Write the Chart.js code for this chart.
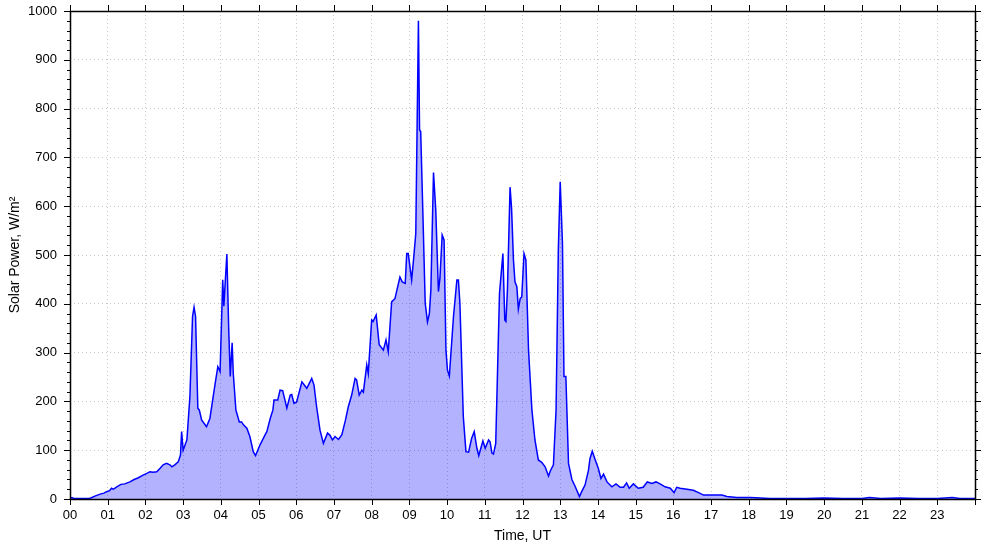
<!DOCTYPE html>
<html>
<head>
<meta charset="utf-8">
<script src="https://cdn.jsdelivr.net/npm/chart.js@4"></script>
<style>
  html, body { margin: 0; padding: 0; background: #fff; }
  #wrap { width: 985px; height: 547px; }
</style>
</head>
<body>
<div id="wrap"><canvas id="grafico"></canvas></div>
<script>
// time of day in hours (UT)
const hours = [
  0.00, 0.05, 0.10, 0.30, 0.50, 0.55, 0.66, 0.80, 0.90, 0.97, 1.05, 1.10, 1.15, 1.24, 1.35, 1.45, 1.59, 1.70, 1.80, 1.94,
  2.05, 2.12, 2.20, 2.30, 2.39, 2.47, 2.56, 2.65, 2.70, 2.78, 2.87, 2.93, 2.96, 3.00, 3.10, 3.18, 3.25, 3.29, 3.33, 3.39,
  3.43, 3.49, 3.62, 3.71, 3.85, 3.92, 3.98, 4.05, 4.08, 4.16, 4.21, 4.25, 4.30, 4.33, 4.40, 4.49, 4.55, 4.60, 4.69, 4.77,
  4.86, 4.92, 5.04, 5.17, 5.22, 5.31, 5.38, 5.41, 5.51, 5.57, 5.64, 5.75, 5.84, 5.88, 5.94, 6.01, 6.15, 6.28, 6.41, 6.47,
  6.54, 6.63, 6.72, 6.83, 6.89, 6.96, 7.03, 7.12, 7.21, 7.30, 7.38, 7.47, 7.56, 7.60, 7.67, 7.74, 7.78, 7.87, 7.91, 8.00,
  8.04, 8.12, 8.20, 8.31, 8.38, 8.44, 8.53, 8.62, 8.66, 8.75, 8.81, 8.89, 8.93, 8.97, 9.06, 9.11, 9.17, 9.24, 9.27, 9.30,
  9.36, 9.42, 9.48, 9.53, 9.57, 9.64, 9.70, 9.77, 9.81, 9.87, 9.92, 9.97, 10.01, 10.06, 10.17, 10.26, 10.30, 10.34, 10.43, 10.50,
  10.57, 10.65, 10.72, 10.79, 10.84, 10.95, 11.01, 11.10, 11.14, 11.19, 11.23, 11.29, 11.33, 11.39, 11.48, 11.53, 11.56, 11.60, 11.67, 11.71,
  11.76, 11.80, 11.85, 11.89, 11.94, 11.98, 12.04, 12.09, 12.16, 12.25, 12.33, 12.42, 12.51, 12.60, 12.69, 12.74, 12.82, 12.89, 12.95, 13.00,
  13.06, 13.10, 13.15, 13.22, 13.31, 13.40, 13.51, 13.57, 13.66, 13.75, 13.79, 13.85, 13.93, 14.01, 14.08, 14.15, 14.24, 14.37, 14.48, 14.59,
  14.68, 14.76, 14.83, 14.94, 15.07, 15.20, 15.31, 15.43, 15.54, 15.65, 15.78, 15.92, 16.02, 16.09, 16.18, 16.36, 16.53, 16.67, 16.80, 17.06,
  17.29, 17.42, 17.68, 18.04, 18.30, 18.57, 19.00, 19.50, 20.00, 20.50, 21.00, 21.20, 21.50, 22.00, 22.50, 23.00, 23.40, 23.60, 24.00
];
// solar power, W/m2
const power = [
  1, 3, 1, 1, 1, 2, 6, 10, 12, 15, 17, 22, 20, 25, 30, 31, 35, 40, 43, 49,
  53, 56, 55, 56, 63, 70, 73, 70, 66, 70, 76, 90, 138, 100, 121, 210, 374, 393, 374, 186,
  182, 162, 148, 165, 237, 271, 261, 449, 395, 502, 346, 251, 320, 257, 182, 158, 158, 152, 145, 128,
  97, 89, 111, 131, 138, 165, 182, 203, 203, 223, 222, 186, 213, 214, 196, 199, 240, 227, 247, 234,
  189, 141, 114, 135, 131, 121, 128, 122, 132, 160, 189, 213, 247, 244, 213, 223, 219, 275, 257, 367,
  364, 377, 316, 305, 326, 302, 404, 411, 425, 455, 445, 442, 503, 503, 449, 490, 544, 980, 756, 753,
  580, 401, 363, 380, 428, 669, 592, 425, 452, 541, 531, 305, 264, 252, 374, 449, 449, 401, 169, 97,
  96, 124, 138, 104, 89, 119, 104, 121, 117, 94, 92, 114, 237, 421, 503, 367, 364, 428, 639, 596,
  490, 445, 435, 389, 411, 414, 503, 490, 305, 182, 121, 80, 75, 66, 47, 58, 70, 182, 510, 650,
  524, 251, 251, 73, 40, 25, 5, 15, 29, 59, 83, 98, 80, 63, 42, 51, 35, 25, 31, 24,
  24, 33, 22, 31, 22, 24, 35, 32, 35, 31, 25, 22, 13, 24, 22, 20, 18, 13, 8, 8,
  8, 5, 3, 3, 2, 1, 1, 1, 2, 1, 1, 3, 1, 2, 1, 1, 3, 1, 1
];

const xMin = 0, xMax = 24;
const yMin = 0, yMax = 1000;

const FONTE = "'Liberation Sans', Arial, sans-serif";

// ===== MARCAS DOS EIXOS (maiores e menores) =====
const marcasEixos = {
  id: 'marcasEixos',
  afterDraw(chart) {
    const { ctx, chartArea: a, scales: { x, y } } = chart;
    ctx.save();
    ctx.strokeStyle = '#000';
    ctx.lineWidth = 1;
    ctx.beginPath();
    // horas: em baixo e em cima
    for (let h = xMin; h <= xMax; h++) {
      const px = Math.round(x.getPixelForValue(h)) + 0.5;
      ctx.moveTo(px, a.bottom); ctx.lineTo(px, a.bottom + 6);
      ctx.moveTo(px, a.top); ctx.lineTo(px, a.top - 6);
    }
    // potência: esquerda e direita, menores a cada 20
    for (let v = yMin; v <= yMax; v += 20) {
      const py = Math.round(y.getPixelForValue(v)) + 0.5;
      const len = v % 100 === 0 ? 6 : 3;
      ctx.moveTo(a.left, py); ctx.lineTo(a.left - len, py);
      ctx.moveTo(a.right, py); ctx.lineTo(a.right + len, py);
    }
    ctx.stroke();
    ctx.lineWidth = 1.5;
    ctx.strokeRect(Math.round(a.left) + 0.5, Math.round(a.top) + 0.5,
      Math.round(a.right - a.left), Math.round(a.bottom - a.top));
    ctx.restore();
  }
};

const pontos = hours.map((h, i) => ({ x: h, y: power[i] }));

new Chart(document.getElementById('grafico'), {
  type: 'line',
  data: {
    datasets: [{
      data: pontos,
      borderColor: '#0000ff',
      borderWidth: 1.5,
      backgroundColor: 'rgba(0,0,255,0.3)',
      fill: 'origin',
      pointRadius: 0,
      tension: 0
    }]
  },
  options: {
    responsive: true,
    maintainAspectRatio: false,
    animation: false,
    layout: { padding: { left: 7, right: 10, top: 11, bottom: 0 } },
    plugins: {
      legend: { display: false },
      tooltip: { enabled: false }
    },
    scales: {
      x: {
        type: 'linear',
        min: xMin,
        max: xMax,
        afterFit: s => { s.height = 48; s.paddingLeft = 0; s.paddingRight = 0; },
        ticks: {
          stepSize: 1,
          autoSkip: false,
          maxRotation: 0,
          padding: 9,
          color: '#000',
          font: { family: FONTE, size: 13 },
          callback: v => v < 24 ? String(v).padStart(2, '0') : ''
        },
        grid: { color: '#c8c8c8', drawTicks: false },
        border: { display: false, dash: [1, 3] },
        title: {
          display: true,
          text: 'Time, UT',
          color: '#000',
          font: { family: FONTE, size: 14 },
          padding: { top: 0, bottom: 2 }
        }
      },
      y: {
        min: yMin,
        max: yMax,
        afterFit: s => { s.width = 63; s.paddingTop = 0; s.paddingBottom = 0; },
        ticks: {
          stepSize: 100,
          padding: 13,
          color: '#000',
          font: { family: FONTE, size: 13 },
          callback: v => String(v)
        },
        grid: { color: '#c8c8c8', drawTicks: false },
        border: { display: false, dash: [1, 3] },
        title: {
          display: true,
          text: 'Solar Power, W/m²',
          color: '#000',
          font: { family: FONTE, size: 14 },
          padding: { top: 0, bottom: 4 }
        }
      }
    }
  },
  plugins: [marcasEixos]
});
</script>
</body>
</html>
